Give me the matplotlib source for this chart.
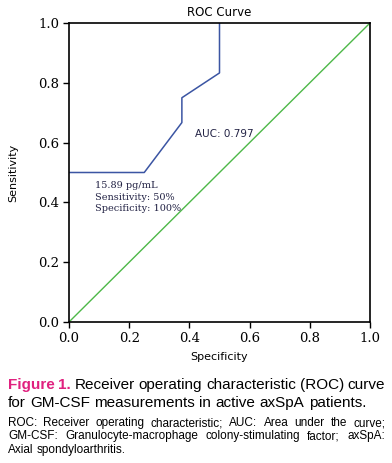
import matplotlib
matplotlib.use('Agg')
import matplotlib.pyplot as plt

# ROC curve
fpr = [0.0, 0.25, 0.375, 0.375, 0.5, 0.5]
tpr = [0.5, 0.5, 0.667, 0.75, 0.833, 1.0]
ref_line = [0.0, 1.0]
ticks = [0.0, 0.2, 0.4, 0.6, 0.8, 1.0]
tick_labels = ['0.0', '0.2', '0.4', '0.6', '0.8', '1.0']

auc_text = 'AUC: 0.797'
cutoff_text = '15.89 pg/mL\nSensitivity: 50%\nSpecificity: 100%'

W, H = 392, 463
fig = plt.figure(figsize=(W / 100, H / 100), dpi=100)
ax = fig.add_axes([69 / W, 1 - 322 / H, 301 / W, 299 / H])

ax.plot(fpr, tpr, color='#3b55a3', lw=1.1)
ax.plot(ref_line, ref_line, color='#4db848', lw=1.0)

ax.set_xlim(0, 1)
ax.set_ylim(0, 1)
ax.set_xticks(ticks)
ax.set_yticks(ticks)
ax.set_xticklabels(tick_labels, family='DejaVu Serif', fontsize=9.5)
ax.set_yticklabels(tick_labels, family='DejaVu Serif', fontsize=9.5)
ax.tick_params(direction='out', length=4, width=1, pad=3)
for s in ax.spines.values():
    s.set_linewidth(1.2)

ax.set_xlabel('Specificity', fontsize=8, labelpad=5)
ax.set_ylabel('Sensitivity', fontsize=8, labelpad=14)
ax.set_title('ROC Curve', fontsize=8.5, pad=5)

ax.text(0.42, 0.63, auc_text, fontsize=7.5, color='#222244', va='center')
ax.text(0.087, 0.472, cutoff_text, fontsize=7, color='#222244',
        family='DejaVu Serif', va='top', linespacing=1.4)

# caption
renderer = fig.canvas.get_renderer()
x0, x1 = 8, 385
cap = 'Liberation Sans'


def place(texts, stretch, size):
    widths = [t.get_window_extent(renderer).width for t in texts]
    if stretch and len(texts) > 1:
        gap = (x1 - x0 - sum(widths)) / (len(texts) - 1)
    else:
        gap = size * 100 / 72 * 0.28
    x = x0
    for t, w in zip(texts, widths):
        t.set_x(x / W)
        x += w + gap


def justify(words, y, size, stretch=True):
    texts = [fig.text(0, 1 - y / H, w, fontsize=size, family=cap, va='baseline')
             for w in words]
    place(texts, stretch, size)
    return texts


first = justify(['Figure', '1.', 'Receiver', 'operating', 'characteristic',
                 '(ROC)', 'curve'], 389, 11)
for t in first[:2]:
    t.set_color('#e0217f')
    t.set_fontweight('bold')
place(first, True, 11)

justify('for GM-CSF measurements in active axSpA patients.'.split(), 407, 11,
        stretch=False)

small = ['ROC: Receiver operating characteristic; AUC: Area under the curve;',
         'GM-CSF: Granulocyte-macrophage colony-stimulating factor; axSpA:',
         'Axial spondyloarthritis.']
for i, line in enumerate(small):
    justify(line.split(), 426 + i * 13.3, 8.5, stretch=(i < 2))

fig.savefig('out.png', dpi=100)
